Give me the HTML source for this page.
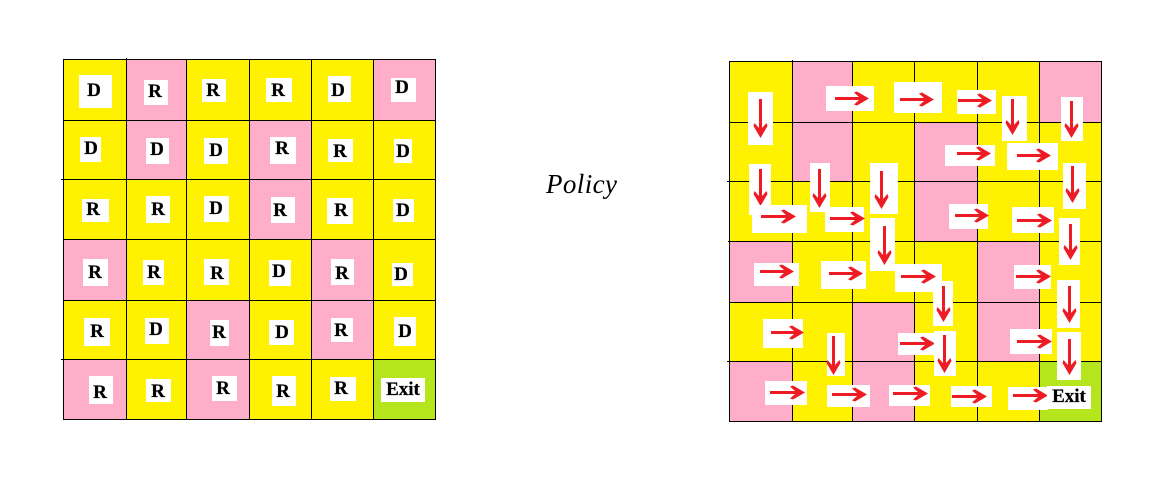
<!DOCTYPE html>
<html lang="en">
<head>
<meta charset="utf-8">
<title>Policy grid</title>
<style>
html,body{margin:0;padding:0;background:#fff;width:1153px;height:487px;overflow:hidden}
svg{display:block}
.y{fill:#FFF200}.p{fill:#FFAEC9}.g{fill:#B5E61D}
.b{fill:#fff}
.t{font-family:"Liberation Serif",serif;font-weight:bold;font-size:19px;fill:#000;stroke:#000;stroke-width:.25;text-anchor:middle}
.l{stroke:#000;stroke-width:1;shape-rendering:crispEdges}
.s{stroke:#ED1C24;stroke-width:3;shape-rendering:crispEdges}
.h{fill:#ED1C24}
</style>
</head>
<body>
<svg xmlns="http://www.w3.org/2000/svg" width="1153" height="487" viewBox="0 0 1153 487">
<defs>
<path id="hr" d="M1,0 L-11,-7 L-14,-6 L-9,-1.5 L-9,1.5 L-14,6 L-11,7 Z"/>
<path id="hd" d="M0,1 L-7,-11 L-6,-14 L-1.5,-9 L1.5,-9 L6,-14 L7,-11 Z"/>
</defs>

<g>
<rect class="y" x="63" y="59" width="63" height="61"/>
<rect class="p" x="126" y="59" width="60" height="61"/>
<rect class="y" x="186" y="59" width="63" height="61"/>
<rect class="y" x="249" y="59" width="62" height="61"/>
<rect class="y" x="311" y="59" width="62" height="61"/>
<rect class="p" x="373" y="59" width="62" height="61"/>
<rect class="y" x="63" y="120" width="63" height="59"/>
<rect class="p" x="126" y="120" width="60" height="59"/>
<rect class="y" x="186" y="120" width="63" height="59"/>
<rect class="p" x="249" y="120" width="62" height="59"/>
<rect class="y" x="311" y="120" width="62" height="59"/>
<rect class="y" x="373" y="120" width="62" height="59"/>
<rect class="y" x="63" y="179" width="63" height="60"/>
<rect class="y" x="126" y="179" width="60" height="60"/>
<rect class="y" x="186" y="179" width="63" height="60"/>
<rect class="p" x="249" y="179" width="62" height="60"/>
<rect class="y" x="311" y="179" width="62" height="60"/>
<rect class="y" x="373" y="179" width="62" height="60"/>
<rect class="p" x="63" y="239" width="63" height="61"/>
<rect class="y" x="126" y="239" width="60" height="61"/>
<rect class="y" x="186" y="239" width="63" height="61"/>
<rect class="y" x="249" y="239" width="62" height="61"/>
<rect class="p" x="311" y="239" width="62" height="61"/>
<rect class="y" x="373" y="239" width="62" height="61"/>
<rect class="y" x="63" y="300" width="63" height="59"/>
<rect class="y" x="126" y="300" width="60" height="59"/>
<rect class="p" x="186" y="300" width="63" height="59"/>
<rect class="y" x="249" y="300" width="62" height="59"/>
<rect class="p" x="311" y="300" width="62" height="59"/>
<rect class="y" x="373" y="300" width="62" height="59"/>
<rect class="p" x="63" y="359" width="63" height="60"/>
<rect class="y" x="126" y="359" width="60" height="60"/>
<rect class="p" x="186" y="359" width="63" height="60"/>
<rect class="y" x="249" y="359" width="62" height="60"/>
<rect class="y" x="311" y="359" width="62" height="60"/>
<rect class="g" x="373" y="359" width="62" height="60"/>
</g>

<g>
<path class="l" fill="none" d="M63.5,59V420M126.5,58V420M186.5,59V420M249.5,59V420M311.5,59V420M373.5,59V420M435.5,59V420M63,59.5H436M63,120.5H436M61,179.5H436M63,239.5H436M63,300.5H436M61,359.5H436M63,419.5H436"/>
</g>

<g>
<g><rect class="b" x="79" y="75" width="33" height="33"/><text class="t" x="94" y="96">D</text></g>
<g><rect class="b" x="144" y="80" width="24" height="25"/><text class="t" x="155" y="97">R</text></g>
<g><rect class="b" x="202" y="79" width="24" height="23"/><text class="t" x="213" y="96">R</text></g>
<g><rect class="b" x="266" y="78" width="26" height="24"/><text class="t" x="278" y="96">R</text></g>
<g><rect class="b" x="328" y="76" width="23" height="26"/><text class="t" x="338" y="96">D</text></g>
<g><rect class="b" x="391" y="78" width="25" height="24"/><text class="t" x="402" y="93">D</text></g>
<g><rect class="b" x="80" y="137" width="21" height="25"/><text class="t" x="91" y="154">D</text></g>
<g><rect class="b" x="146" y="138" width="23" height="26"/><text class="t" x="157" y="155">D</text></g>
<g><rect class="b" x="204" y="138" width="24" height="26"/><text class="t" x="216" y="156">D</text></g>
<g><rect class="b" x="270" y="137" width="26" height="27"/><text class="t" x="282" y="154">R</text></g>
<g><rect class="b" x="328" y="139" width="25" height="23"/><text class="t" x="340" y="157">R</text></g>
<g><rect class="b" x="394" y="139" width="18" height="24"/><text class="t" x="403" y="157">D</text></g>
<g><rect class="b" x="82" y="199" width="27" height="23"/><text class="t" x="93" y="215">R</text></g>
<g><rect class="b" x="146" y="196" width="24" height="27"/><text class="t" x="158" y="215">R</text></g>
<g><rect class="b" x="204" y="196" width="25" height="26"/><text class="t" x="216" y="214">D</text></g>
<g><rect class="b" x="271" y="197" width="24" height="26"/><text class="t" x="280" y="216">R</text></g>
<g><rect class="b" x="327" y="198" width="26" height="26"/><text class="t" x="341" y="216">R</text></g>
<g><rect class="b" x="393" y="199" width="21" height="23"/><text class="t" x="403" y="216">D</text></g>
<g><rect class="b" x="83" y="259" width="25" height="27"/><text class="t" x="95" y="278">R</text></g>
<g><rect class="b" x="143" y="260" width="21" height="25"/><text class="t" x="154" y="278">R</text></g>
<g><rect class="b" x="204" y="259" width="25" height="26"/><text class="t" x="217" y="279">R</text></g>
<g><rect class="b" x="269" y="260" width="22" height="26"/><text class="t" x="279" y="277">D</text></g>
<g><rect class="b" x="331" y="259" width="23" height="26"/><text class="t" x="342" y="279">R</text></g>
<g><rect class="b" x="392" y="263" width="21" height="23"/><text class="t" x="401" y="280">D</text></g>
<g><rect class="b" x="84" y="318" width="26" height="28"/><text class="t" x="97" y="337">R</text></g>
<g><rect class="b" x="145" y="318" width="24" height="26"/><text class="t" x="156" y="335">D</text></g>
<g><rect class="b" x="210" y="320" width="19" height="26"/><text class="t" x="219" y="338">R</text></g>
<g><rect class="b" x="269" y="320" width="25" height="25"/><text class="t" x="282" y="338">D</text></g>
<g><rect class="b" x="331" y="318" width="22" height="24"/><text class="t" x="341" y="336">R</text></g>
<g><rect class="b" x="394" y="317" width="22" height="29"/><text class="t" x="405" y="337">D</text></g>
<g><rect class="b" x="89" y="376" width="24" height="28"/><text class="t" x="100" y="398">R</text></g>
<g><rect class="b" x="146" y="379" width="25" height="23"/><text class="t" x="158" y="397">R</text></g>
<g><rect class="b" x="212" y="376" width="25" height="25"/><text class="t" x="223" y="394">R</text></g>
<g><rect class="b" x="272" y="376" width="24" height="30"/><text class="t" x="283" y="397">R</text></g>
<g><rect class="b" x="330" y="377" width="26" height="24"/><text class="t" x="341" y="394">R</text></g>
<g><rect class="b" x="381" y="378" width="44" height="24"/><text class="t" x="403" y="395">Exit</text></g>
</g>

<text x="546" y="193" font-family="'Liberation Serif',serif" font-style="italic" font-size="27" letter-spacing="0.4" fill="#000">Policy</text>

<g>
<rect class="y" x="729" y="61" width="63" height="61"/>
<rect class="p" x="792" y="61" width="60" height="61"/>
<rect class="y" x="852" y="61" width="62" height="61"/>
<rect class="y" x="914" y="61" width="63" height="61"/>
<rect class="y" x="977" y="61" width="62" height="61"/>
<rect class="p" x="1039" y="61" width="62" height="61"/>
<rect class="y" x="729" y="122" width="63" height="59"/>
<rect class="p" x="792" y="122" width="60" height="59"/>
<rect class="y" x="852" y="122" width="62" height="59"/>
<rect class="p" x="914" y="122" width="63" height="59"/>
<rect class="y" x="977" y="122" width="62" height="59"/>
<rect class="y" x="1039" y="122" width="62" height="59"/>
<rect class="y" x="729" y="181" width="63" height="60"/>
<rect class="y" x="792" y="181" width="60" height="60"/>
<rect class="y" x="852" y="181" width="62" height="60"/>
<rect class="p" x="914" y="181" width="63" height="60"/>
<rect class="y" x="977" y="181" width="62" height="60"/>
<rect class="y" x="1039" y="181" width="62" height="60"/>
<rect class="p" x="729" y="241" width="63" height="61"/>
<rect class="y" x="792" y="241" width="60" height="61"/>
<rect class="y" x="852" y="241" width="62" height="61"/>
<rect class="y" x="914" y="241" width="63" height="61"/>
<rect class="p" x="977" y="241" width="62" height="61"/>
<rect class="y" x="1039" y="241" width="62" height="61"/>
<rect class="y" x="729" y="302" width="63" height="59"/>
<rect class="y" x="792" y="302" width="60" height="59"/>
<rect class="p" x="852" y="302" width="62" height="59"/>
<rect class="y" x="914" y="302" width="63" height="59"/>
<rect class="p" x="977" y="302" width="62" height="59"/>
<rect class="y" x="1039" y="302" width="62" height="59"/>
<rect class="p" x="729" y="361" width="63" height="60"/>
<rect class="y" x="792" y="361" width="60" height="60"/>
<rect class="p" x="852" y="361" width="62" height="60"/>
<rect class="y" x="914" y="361" width="63" height="60"/>
<rect class="y" x="977" y="361" width="62" height="60"/>
<rect class="g" x="1039" y="361" width="62" height="60"/>
</g>

<g>
<path class="l" fill="none" d="M729.5,61V422M792.5,60V422M852.5,61V422M914.5,61V422M977.5,61V422M1039.5,61V422M1101.5,61V422M729,61.5H1102M729,122.5H1102M727,181.5H1102M728,241.5H1102M729,302.5H1102M727,361.5H1102M729,421.5H1102"/>
</g>

<g>
<g><rect class="b" x="748" y="92" width="25" height="53"/><path class="s" d="M760.5,99V130"/><use class="h" href="#hd" x="760.5" y="137"/></g>
<g><rect class="b" x="826" y="86" width="48" height="25"/><path class="s" d="M835,98.5H861"/><use class="h" href="#hr" x="868" y="98.5"/></g>
<g><rect class="b" x="894" y="82" width="48" height="31"/><path class="s" d="M900,99.5H926"/><use class="h" href="#hr" x="933" y="99.5"/></g>
<g><rect class="b" x="957" y="90" width="39" height="24"/><path class="s" d="M958,100.5H984"/><use class="h" href="#hr" x="991" y="100.5"/></g>
<g><rect class="b" x="1002" y="96" width="25" height="45"/><path class="s" d="M1012.5,99V127"/><use class="h" href="#hd" x="1012.5" y="134"/></g>
<g><rect class="b" x="1061" y="97" width="22" height="44"/><path class="s" d="M1071.5,101V130"/><use class="h" href="#hd" x="1071.5" y="137"/></g>
<g><rect class="b" x="945" y="145" width="50" height="21"/><path class="s" d="M957,153.5H983"/><use class="h" href="#hr" x="990" y="153.5"/></g>
<g><rect class="b" x="1007" y="143" width="51" height="27"/><path class="s" d="M1017,155.5H1043"/><use class="h" href="#hr" x="1050" y="155.5"/></g>
<g><rect class="b" x="1063" y="163" width="23" height="46"/><path class="s" d="M1072.5,166V195"/><use class="h" href="#hd" x="1072.5" y="202"/></g>
<g><rect class="b" x="749" y="164" width="22" height="51"/><path class="s" d="M760.5,169V198"/><use class="h" href="#hd" x="760.5" y="205"/></g>
<g><rect class="b" x="810" y="163" width="20" height="49"/><path class="s" d="M819.5,169V200"/><use class="h" href="#hd" x="819.5" y="207"/></g>
<g><rect class="b" x="870" y="163" width="28" height="51"/><path class="s" d="M881.5,171V201"/><use class="h" href="#hd" x="881.5" y="208"/></g>
<g><rect class="b" x="949" y="204" width="39" height="25"/><path class="s" d="M955,215.5H981"/><use class="h" href="#hr" x="988" y="215.5"/></g>
<g><rect class="b" x="1012" y="207" width="42" height="26"/><path class="s" d="M1017,220.5H1044"/><use class="h" href="#hr" x="1051" y="220.5"/></g>
<g><rect class="b" x="752" y="205" width="55" height="28"/><path class="s" d="M761,216.5H788"/><use class="h" href="#hr" x="795" y="216.5"/></g>
<g><rect class="b" x="825" y="207" width="39" height="25"/><path class="s" d="M830,218.5H857"/><use class="h" href="#hr" x="864" y="218.5"/></g>
<g><rect class="b" x="1059" y="218" width="21" height="47"/><path class="s" d="M1070.5,224V252"/><use class="h" href="#hd" x="1070.5" y="259"/></g>
<g><rect class="b" x="870" y="218" width="25" height="53"/><path class="s" d="M884.5,226V257"/><use class="h" href="#hd" x="884.5" y="264"/></g>
<g><rect class="b" x="754" y="263" width="45" height="23"/><path class="s" d="M760,271.5H786"/><use class="h" href="#hr" x="793" y="271.5"/></g>
<g><rect class="b" x="821" y="261" width="45" height="28"/><path class="s" d="M829,273.5H855"/><use class="h" href="#hr" x="862" y="273.5"/></g>
<g><rect class="b" x="895" y="264" width="47" height="28"/><path class="s" d="M901,276.5H928"/><use class="h" href="#hr" x="935" y="276.5"/></g>
<g><rect class="b" x="1014" y="265" width="37" height="24"/><path class="s" d="M1016,276.5H1043"/><use class="h" href="#hr" x="1050" y="276.5"/></g>
<g><rect class="b" x="933" y="281" width="20" height="45"/><path class="s" d="M943.5,286V314"/><use class="h" href="#hd" x="943.5" y="321"/></g>
<g><rect class="b" x="1057" y="280" width="23" height="48"/><path class="s" d="M1069.5,286V315"/><use class="h" href="#hd" x="1069.5" y="322"/></g>
<g><rect class="b" x="763" y="319" width="40" height="29"/><path class="s" d="M771,332.5H796"/><use class="h" href="#hr" x="803" y="332.5"/></g>
<g><rect class="b" x="898" y="333" width="36" height="22"/><path class="s" d="M900,343.5H927"/><use class="h" href="#hr" x="934" y="343.5"/></g>
<g><rect class="b" x="827" y="333" width="18" height="43"/><path class="s" d="M833.5,336V367"/><use class="h" href="#hd" x="833.5" y="374"/></g>
<g><rect class="b" x="934" y="331" width="22" height="45"/><path class="s" d="M944.5,335V365"/><use class="h" href="#hd" x="944.5" y="372"/></g>
<g><rect class="b" x="1010" y="329" width="42" height="25"/><path class="s" d="M1017,341.5H1044"/><use class="h" href="#hr" x="1051" y="341.5"/></g>
<g><rect class="b" x="1057" y="332" width="24" height="48"/><path class="s" d="M1069.5,339V367"/><use class="h" href="#hd" x="1069.5" y="374"/></g>
<g><rect class="b" x="765" y="381" width="42" height="24"/><path class="s" d="M770,392.5H797"/><use class="h" href="#hr" x="804" y="392.5"/></g>
<g><rect class="b" x="827" y="385" width="43" height="22"/><path class="s" d="M832,394.5H859"/><use class="h" href="#hr" x="866" y="394.5"/></g>
<g><rect class="b" x="889" y="385" width="41" height="21"/><path class="s" d="M893,393.5H920"/><use class="h" href="#hr" x="927" y="393.5"/></g>
<g><rect class="b" x="951" y="386" width="41" height="21"/><path class="s" d="M952,396.5H979"/><use class="h" href="#hr" x="986" y="396.5"/></g>
<g><rect class="b" x="1008" y="387" width="40" height="23"/><path class="s" d="M1013,395.5H1040"/><use class="h" href="#hr" x="1047" y="395.5"/></g>
<g><rect class="b" x="1047" y="386" width="44" height="23"/><text class="t" x="1069" y="402">Exit</text></g>
</g>
</svg>
</body>
</html>
